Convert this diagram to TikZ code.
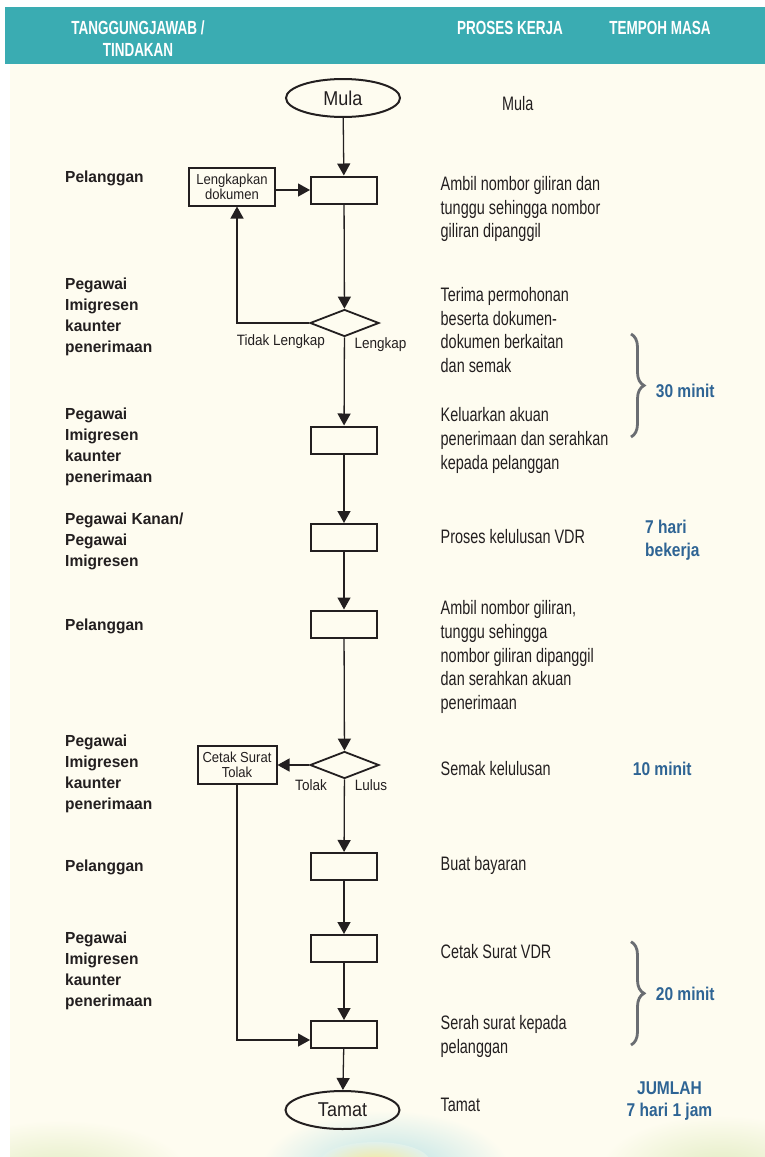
\documentclass[tikz,border=0pt]{standalone}
\usepackage{fontspec}
\newfontfamily\hdfamily{Liberation Sans}[FakeStretch=0.71]
\newfontfamily\bdfamily{Liberation Sans}[FakeStretch=0.74]
\newfontfamily\rlfamily{Liberation Sans}[FakeStretch=0.97]
\newfontfamily\smfamily{Liberation Sans}[FakeStretch=0.9]
\newfontfamily\tmfamily{Liberation Sans}[FakeStretch=0.84]
\newcommand\fHead{\hdfamily\bfseries\fontsize{19}{22.4}\selectfont}
\newcommand\fBody{\bdfamily\fontsize{19.5}{23.6}\selectfont}
\newcommand\fRole{\rlfamily\bfseries\fontsize{16}{21}\selectfont}
\newcommand\fSmall{\smfamily\fontsize{14.5}{15}\selectfont}
\newcommand\fLabel{\smfamily\fontsize{15}{16}\selectfont}
\newcommand\fTerm{\smfamily\fontsize{20}{22}\selectfont}
\newcommand\fTime{\tmfamily\bfseries\fontsize{18.5}{23.4}\selectfont}
\usetikzlibrary{arrows.meta,shapes.geometric,decorations.pathreplacing}
\definecolor{hdteal}{HTML}{3AACB2}
\definecolor{cream}{HTML}{FEFCF0}
\definecolor{ink}{HTML}{231F20}
\definecolor{tblue}{HTML}{2E6494}
\definecolor{bracegray}{HTML}{6A6D72}
\definecolor{photoblue}{HTML}{B6E0E4}
\definecolor{photoyellow}{HTML}{F3E9A0}
\definecolor{photogreen}{HTML}{E2ECC2}
\tikzset{
  flow/.style={draw=ink, line width=1.3pt, -{Triangle[length=12pt,width=13pt]}},
  procbox/.style={draw=ink, line width=2pt, minimum width=66pt, minimum height=27pt, inner sep=0pt},
  sidebox/.style={draw=ink, line width=2pt, inner sep=0pt, align=center, font=\fSmall, text=ink, minimum height=38pt},
  decision/.style={diamond, draw=ink, line width=1.8pt, minimum width=69pt, minimum height=27pt, inner sep=0pt},
  terminal/.style={ellipse, draw=ink, line width=2pt, minimum width=114pt, minimum height=38pt, inner sep=0pt, font=\fTerm, text=ink},
  bodytxt/.style={anchor=base west, inner sep=0pt, align=left, font=\fBody, text=ink},
  roletxt/.style={anchor=base west, inner sep=0pt, align=left, font=\fRole, text=ink},
  timetxt/.style={anchor=base west, inner sep=0pt, align=left, font=\fTime, text=tblue},
  hdtxt/.style={anchor=base, inner sep=0pt, align=center, font=\fHead, text=white},
  lbl/.style={anchor=base, inner sep=0pt, font=\fLabel, text=ink},
  timebrace/.style={draw=bracegray, line width=2.8pt, decorate, decoration={brace, amplitude=13pt}},
}
\begin{document}
\begin{tikzpicture}[x=1pt,y=-1pt]
\useasboundingbox (0,0) rectangle (765,1157);
\fill[white] (0,0) rectangle (765,1157);
\fill[cream] (10,64) rectangle (765,1157);
\fill[hdteal] (4.5,7.3) rectangle (765,64);

% faded photo at the bottom (background)
\begin{scope}
\clip (10,1080) rectangle (765,1157);
\shade[inner color=photogreen, outer color=cream] (60,1175) ellipse (130pt and 55pt);
\shade[inner color=photogreen, outer color=cream] (720,1170) ellipse (120pt and 55pt);
\shade[inner color=photoblue, outer color=cream] (385,1170) ellipse (125pt and 60pt);
\shade[inner color=photoyellow, outer color=photoblue!40!cream] (375,1162) ellipse (55pt and 20pt);
\end{scope}

% header
\node[hdtxt] (h1) at (138,56.7) {TANGGUNGJAWAB /\\TINDAKAN};
\node[hdtxt] (h2) at (510,34.3) {PROSES KERJA};
\node[hdtxt] (h3) at (660,34.3) {TEMPOH MASA};

% flow nodes
\node[terminal] (mula) at (343,98) {Mula};
\node[procbox] (p1) at (344,190) {};
\node[sidebox, minimum width=86pt] (lengkap) at (232,186.5) {Lengkapkan\\dokumen};
\node[decision] (d1) at (344.5,323) {};
\node[procbox] (p2) at (344,440) {};
\node[procbox] (p3) at (344,537.5) {};
\node[procbox] (p4) at (344,624) {};
\node[decision] (d2) at (344.5,765) {};
\node[sidebox, minimum width=79pt] (tolak) at (237,765) {Cetak Surat\\Tolak};
\node[procbox] (p5) at (344,866.5) {};
\node[procbox] (p6) at (344,948.5) {};
\node[procbox] (p7) at (344,1034.5) {};
\node[terminal] (tamat) at (342.5,1110) {Tamat};

% connectors
\draw[flow] (mula) -- (p1);
\draw[flow] (lengkap.east |- p1.west) -- (p1.west);
\draw[flow] (p1) -- (d1);
\coordinate (c1) at (237,323);
\draw[flow] (d1.west) -- (c1) -- (c1 |- lengkap.south);
\draw[flow] (d1) -- (p2);
\draw[flow] (p2) -- (p3);
\draw[flow] (p3) -- (p4);
\draw[flow] (p4) -- (d2);
\draw[flow] (d2.west) -- (tolak.east);
\draw[flow] (d2) -- (p5);
\draw[flow] (p5) -- (p6);
\draw[flow] (p6) -- (p7);
\draw[flow] (p7) -- (tamat);
\coordinate (c2) at (237,1040);
\draw[flow] (tolak.south) -- (c2) -- (c2 -| p7.west);

% branch labels
\node[lbl] (tl) at (281,345) {Tidak Lengkap};
\node[lbl] (lk) at (380.5,348) {Lengkap};
\node[lbl] (to) at (311,790) {Tolak};
\node[lbl] (lu) at (371,790) {Lulus};

% roles (node positions are the baselines of the last lines)
\node[roletxt] (r1) at (65,182.3) {Pelanggan};
\node[roletxt] (r2) at (65,352.5) {Pegawai\\Imigresen\\kaunter\\penerimaan};
\node[roletxt] (r3) at (65,482.3) {Pegawai\\Imigresen\\kaunter\\penerimaan};
\node[roletxt] (r4) at (65,566.5) {Pegawai Kanan/\\Pegawai\\Imigresen};
\node[roletxt] (r5) at (65,630) {Pelanggan};
\node[roletxt] (r6) at (65,809) {Pegawai\\Imigresen\\kaunter\\penerimaan};
\node[roletxt] (r7) at (65,871.5) {Pelanggan};
\node[roletxt] (r8) at (65,1006.5) {Pegawai\\Imigresen\\kaunter\\penerimaan};

% process descriptions
\node[bodytxt] (t0) at (502,110.7) {Mula};
\node[bodytxt] (t1) at (440.5,237.6) {Ambil nombor giliran dan\\tunggu sehingga nombor\\giliran dipanggil};
\node[bodytxt] (t2) at (440.5,372.5) {Terima permohonan\\beserta dokumen-\\dokumen berkaitan\\dan semak};
\node[bodytxt] (t3) at (440.5,469) {Keluarkan akuan\\penerimaan dan serahkan\\kepada pelanggan};
\node[bodytxt] (t4) at (440.5,543.3) {Proses kelulusan VDR};
\node[bodytxt] (t5) at (440.5,709.3) {Ambil nombor giliran,\\tunggu sehingga\\nombor giliran dipanggil\\dan serahkan akuan\\penerimaan};
\node[bodytxt] (t6) at (440.5,775) {Semak kelulusan};
\node[bodytxt] (t7) at (440.5,870.7) {Buat bayaran};
\node[bodytxt] (t8) at (440.5,958.3) {Cetak Surat VDR};
\node[bodytxt] (t9) at (440.5,1053.4) {Serah surat kepada\\pelanggan};
\node[bodytxt] (t10) at (440.5,1111.7) {Tamat};

% durations
\draw[timebrace] (631,334) -- (631,437);
\node[timetxt] (m30) at (655.7,397.3) {30 minit};
\node[timetxt] (h7) at (645,556.7) {7 hari\\bekerja};
\node[timetxt] (m10) at (632.7,775) {10 minit};
\draw[timebrace] (631,941.7) -- (631,1045);
\node[timetxt] (m20) at (655.7,1000) {20 minit};
\node[timetxt, anchor=base, align=center, font=\tmfamily\bfseries\fontsize{18.5}{22}\selectfont] (jml) at (669.5,1116.3) {JUMLAH\\7 hari 1 jam};
\end{tikzpicture}
\end{document}
